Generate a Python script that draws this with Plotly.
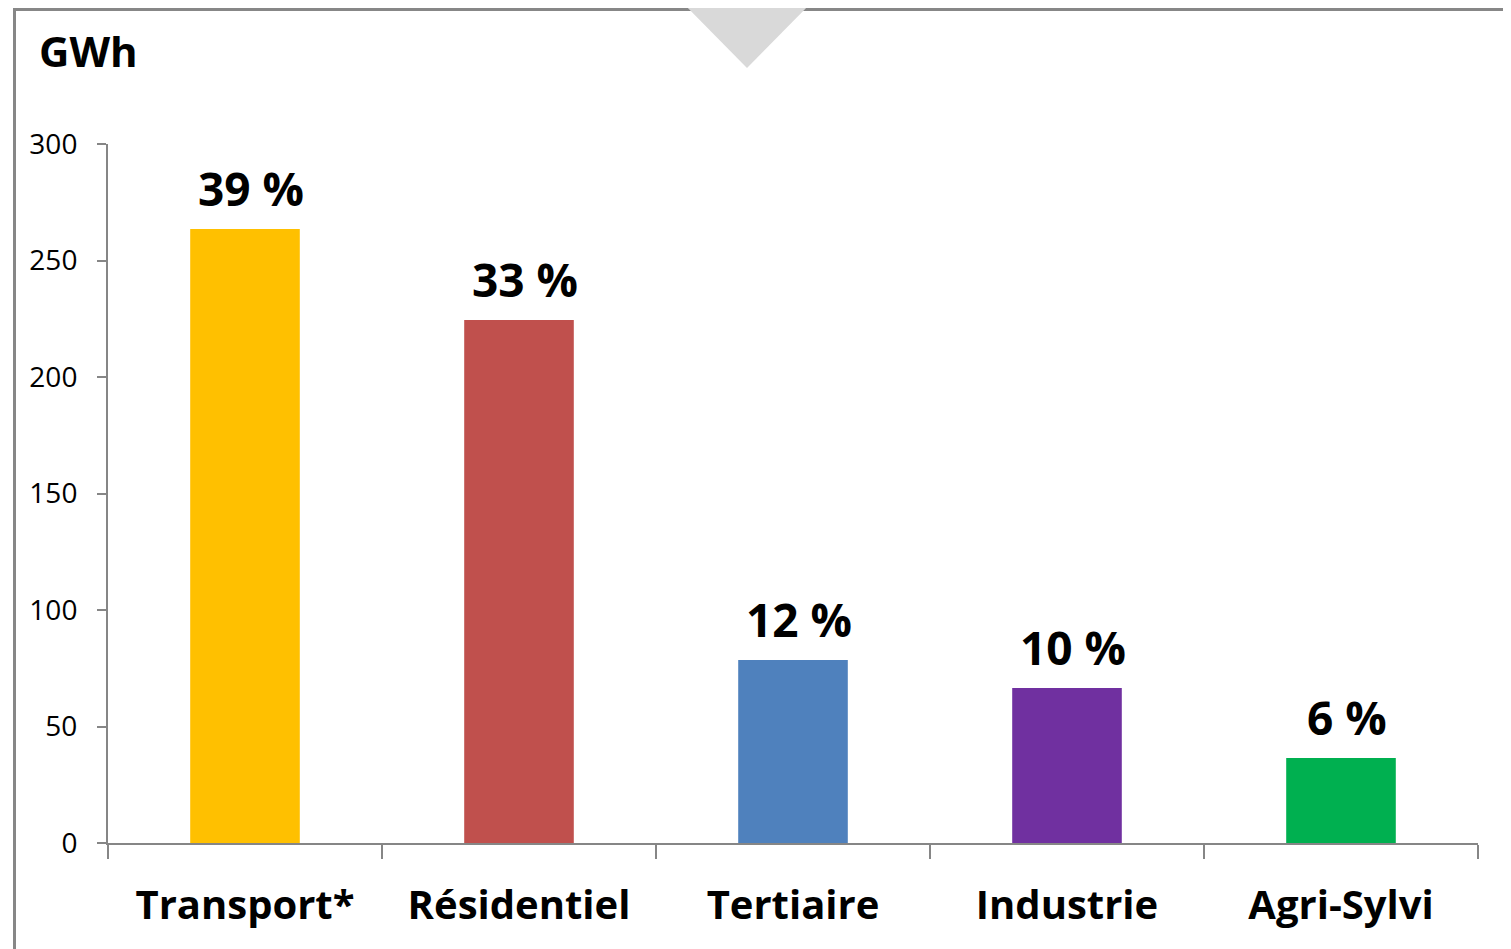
import plotly.graph_objects as go

categories = ["Transport*", "Résidentiel", "Tertiaire", "Industrie", "Agri-Sylvi"]
values_gwh = [263.5, 224.5, 78.5, 66.5, 36.5]
share_labels = ["39 %", "33 %", "12 %", "10 %", "6 %"]
bar_colors = ["#FFC000", "#C0504D", "#4F81BD", "#7030A0", "#00B050"]
y_ticks = [0, 50, 100, 150, 200, 250, 300]

OFF = 8  # page body margin
W, H = 1511 - OFF, 949 - OFF
L, R, T, B = 108, 1478, 144, 843  # page pixel coordinates of plot area

def px_x(p):
    return (p - L) / (R - L)

def px_y(p):
    return (B - p) / (B - T)

FONT = "Open Sans"

fig = go.Figure()
fig.add_trace(go.Bar(
    x=categories, y=values_gwh,
    marker=dict(color=bar_colors, line=dict(width=0)),
    width=0.4, hoverinfo="skip",
))

for c, v, s in zip(categories, values_gwh, share_labels):
    fig.add_annotation(x=c, y=v, text="<b>%s</b>" % s, showarrow=False,
                       xanchor="center", yanchor="bottom", yshift=8, xshift=6,
                       font=dict(family=FONT, size=46, color="black"))

fig.add_annotation(xref="paper", yref="paper", x=px_x(37), y=px_y(50),
                   text="<b>GWh</b>", showarrow=False, xanchor="left", yanchor="middle",
                   font=dict(family=FONT, size=42, color="black"))

# frame
fig.add_shape(type="rect", xref="paper", yref="paper",
              x0=px_x(14.5), x1=px_x(1530), y0=px_y(980), y1=px_y(9.5),
              line=dict(color="#878787", width=3), fillcolor="rgba(0,0,0,0)", layer="below")
# triangle marker at top
fig.add_shape(type="path", xref="paper", yref="paper",
              path="M %f,%f L %f,%f L %f,%f Z" % (px_x(678), px_y(-2), px_x(816), px_y(-2), px_x(747), px_y(68)),
              fillcolor="#D9D9D9", line=dict(width=0), layer="above")

fig.update_layout(
    width=W, height=H,
    margin=dict(l=L - OFF, r=W - (R - OFF), t=T - OFF, b=H - (B - OFF), pad=0),
    paper_bgcolor="white", plot_bgcolor="white",
    showlegend=False, bargap=0.6,
    font=dict(family=FONT, color="black"),
)
fig.update_xaxes(
    type="category", showline=True, linecolor="#868686", linewidth=2,
    ticks="outside", tickson="boundaries", ticklen=14, tickwidth=2, tickcolor="#868686",
    tickfont=dict(family=FONT, size=40, color="black"),
    tickprefix="<b>", ticksuffix="</b>", ticklabelstandoff=26,
    showgrid=False, zeroline=False, fixedrange=True,
)
fig.update_yaxes(
    range=[0, 300], tickvals=y_ticks, showline=True, linecolor="#868686", linewidth=2,
    ticks="outside", ticklen=9, tickwidth=2, tickcolor="#868686",
    tickfont=dict(family=FONT, size=28, color="black"), ticklabelstandoff=14,
    showgrid=False, zeroline=False, fixedrange=True,
)

fig.write_html("out.html", config={"displayModeBar": False})
